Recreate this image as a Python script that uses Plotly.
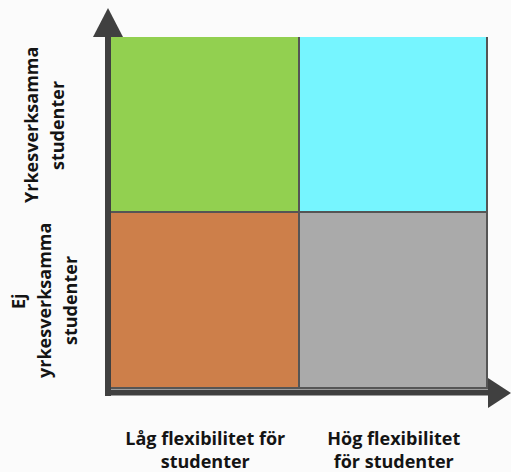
import plotly.graph_objects as go

# ---- data ----
x_categories = ["Låg flexibilitet för<br>studenter", "Hög flexibilitet<br>för studenter"]
y_categories = ["Ej<br>yrkesverksamma<br>studenter", "Yrkesverksamma<br>studenter"]
bottom_row_colors = ["#CD7F4A", "#AAAAAA"]   # Ej yrkesverksamma
top_row_colors = ["#92D050", "#76F5FF"]      # Yrkesverksamma
cell_height = [1, 1]

W, H = 511, 472
L, R, T, B = 111, 23, 37, 83
pw, ph = W - L - R, H - T - B
FONT = "Open Sans"

def px(xp):
    return (xp - L) / pw

def py(yp):
    return (H - B - yp) / ph

fig = go.Figure()
fig.add_trace(go.Bar(x=x_categories, y=cell_height, marker=dict(color=bottom_row_colors,
                     line=dict(color="#555555", width=1.8)), hoverinfo="skip"))
fig.add_trace(go.Bar(x=x_categories, y=cell_height, marker=dict(color=top_row_colors,
                     line=dict(color="#555555", width=1.8)), hoverinfo="skip"))

axis_col = "#404040"
shapes = [
    dict(type="line", xref="paper", yref="paper", x0=px(108), x1=px(108), y0=py(396), y1=py(37),
         line=dict(color=axis_col, width=6)),
    dict(type="path", xref="paper", yref="paper",
         path=f"M {px(93)} {py(37)} L {px(108)} {py(8)} L {px(123)} {py(37)} Z",
         fillcolor=axis_col, line=dict(width=0)),
    dict(type="line", xref="paper", yref="paper", x0=px(105), x1=px(489), y0=py(392.5), y1=py(392.5),
         line=dict(color=axis_col, width=6)),
    dict(type="path", xref="paper", yref="paper",
         path=f"M {px(488)} {py(378)} L {px(511)} {py(393)} L {px(488)} {py(408)} Z",
         fillcolor=axis_col, line=dict(width=0)),
]

annotations = []
line_gap = 26
for i, lab in enumerate(y_categories):
    lines = lab.split("<br>")
    n = len(lines)
    for j, ln in enumerate(lines):
        xc = 44 + (j - (n - 1) / 2) * line_gap
        annotations.append(dict(text=f"<b>{ln}</b>", xref="paper", yref="y", x=px(xc), y=i + 0.5,
                                textangle=-90, showarrow=False, xanchor="center", yanchor="middle",
                                font=dict(family=FONT, size=18, color="#141414")))

fig.update_layout(
    width=W, height=H, margin=dict(l=L, r=R, t=T, b=B, autoexpand=False),
    barmode="stack", bargap=0, showlegend=False,
    paper_bgcolor="#FBFBFB", plot_bgcolor="#FBFBFB",
    shapes=shapes, annotations=annotations,
    xaxis=dict(type="category", range=[-0.5, 1.5], showgrid=False, zeroline=False, showline=False,
               automargin=False,
               tickvals=x_categories, ticktext=[f"<b>{c}</b>" for c in x_categories],
               ticks="", ticklabelstandoff=37,
               tickfont=dict(family=FONT, size=18, color="#141414")),
    yaxis=dict(range=[0, 2], showgrid=False, zeroline=False, showline=False, showticklabels=False,
               automargin=False),
)

fig.write_html("out.html", config={"displayModeBar": False},
               post_script="document.body.style.margin='0';document.body.style.overflow='hidden';")
